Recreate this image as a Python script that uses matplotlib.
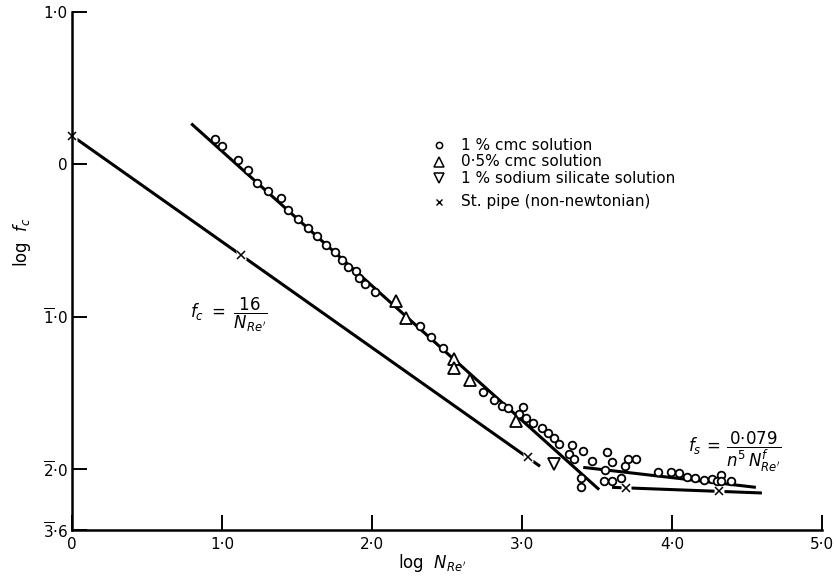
import matplotlib
matplotlib.use("Agg")
import matplotlib.pyplot as plt
import numpy as np

# ---- data (log N_Re', log f) ----
cmc1_x = [0.955, 0.999, 1.105, 1.176, 1.236, 1.309, 1.393, 1.442, 1.510, 1.575,
          1.635, 1.692, 1.756, 1.801, 1.843, 1.894, 1.914, 1.951, 2.022, 2.319,
          2.394, 2.476, 2.740, 2.815, 2.870, 2.910, 3.010, 2.983, 3.028, 3.074,
          3.134, 3.171, 3.211, 3.247, 3.333, 3.409, 3.316, 3.347, 3.470, 3.397,
          3.393, 3.568, 3.603, 3.705, 3.760, 3.686, 3.557, 3.663, 3.603, 3.546,
          3.907, 3.996, 4.045, 4.102, 4.157, 4.217, 4.266, 4.301, 4.328, 4.328,
          4.394]
cmc1_y = [0.167, 0.119, 0.029, -0.039, -0.126, -0.176, -0.220, -0.298, -0.362, -0.416,
          -0.473, -0.530, -0.576, -0.630, -0.674, -0.700, -0.748, -0.783, -0.838, -1.058,
          -1.133, -1.203, -1.493, -1.546, -1.585, -1.602, -1.592, -1.640, -1.666, -1.701,
          -1.733, -1.764, -1.799, -1.838, -1.843, -1.880, -1.902, -1.934, -1.946, -2.061,
          -2.116, -1.891, -1.954, -1.936, -1.936, -1.982, -2.004, -2.057, -2.077, -2.077,
          -2.022, -2.022, -2.028, -2.050, -2.061, -2.070, -2.066, -2.077, -2.039, -2.077,
          -2.081]

cmc05_x = [2.162, 2.226, 2.549, 2.549, 2.651, 2.961]
cmc05_y = [-0.895, -1.008, -1.275, -1.334, -1.415, -1.683]

silicate_x = [3.216]
silicate_y = [-1.969]

pipe_x = [0.0, 1.127, 3.039, 3.697, 4.317]
pipe_y = [0.187, -0.598, -1.923, -2.122, -2.143]

# fitted / theoretical lines (end points)
fc_line_x = [0.0, 3.121]
fc_line_y = [0.187, -1.982]
cmc_line_x = [0.795, 3.515]
cmc_line_y = [0.267, -2.135]
fs_upper_x = [3.409, 4.560]
fs_upper_y = [-1.989, -2.120]
fs_lower_x = [3.601, 4.600]
fs_lower_y = [-2.120, -2.157]

xticks = [0, 1, 2, 3, 4, 5]
xticklabels = ["0", "1·0", "2·0", "3·0", "4·0", "5·0"]
yticks = [1.0, 0.0, -1.0, -2.0, -2.4]
yticklabels = ["1·0", "0", r"$\overline{1}$·0", r"$\overline{2}$·0", r"$\overline{3}$·6"]

legend_labels = ["1 % cmc solution", "0·5% cmc solution",
                 "1 % sodium silicate solution", "St. pipe (non-newtonian)"]

# ---- figure ----
plt.rcParams["font.family"] = ["DejaVu Sans"]
plt.rcParams["mathtext.fontset"] = "dejavusans"
fig = plt.figure(figsize=(8.36, 5.83), dpi=100)
ax = fig.add_axes([0.0861, 0.0909, 0.897, 0.8887])

lw = 2.2
ax.plot(fc_line_x, fc_line_y, color="black", lw=lw, solid_capstyle="butt", zorder=2)
ax.plot(cmc_line_x, cmc_line_y, color="black", lw=lw, solid_capstyle="butt", zorder=2)
ax.plot(fs_upper_x, fs_upper_y, color="black", lw=lw, solid_capstyle="butt", zorder=2)
ax.plot(fs_lower_x, fs_lower_y, color="black", lw=lw, solid_capstyle="butt", zorder=2)

ax.plot(cmc1_x, cmc1_y, ls="none", marker="o", ms=5.5, mfc="white", mec="black",
        mew=1.3, zorder=3, clip_on=False)
ax.plot(cmc05_x, cmc05_y, ls="none", marker="^", ms=8.5, mfc="white", mec="black",
        mew=1.3, zorder=3)
ax.plot(silicate_x, silicate_y, ls="none", marker="v", ms=8.5, mfc="white", mec="black",
        mew=1.3, zorder=3)
# white gaps under the crosses
ax.plot(pipe_x, pipe_y, ls="none", marker="s", ms=7, mfc="white", mec="none",
        zorder=2.1, clip_on=False)
ax.plot(pipe_x, pipe_y, ls="none", marker="x", ms=5.5, color="black", mew=1.1,
        zorder=3, clip_on=False)

ax.set_xlim(0, 5)
ax.set_ylim(-2.4, 1.0)

for s in ["top", "right"]:
    ax.spines[s].set_visible(False)
for s in ["left", "bottom"]:
    ax.spines[s].set_linewidth(1.8)

ax.set_xticks(xticks)
ax.set_xticklabels(xticklabels)
ax.set_yticks(yticks)
ax.set_yticklabels(yticklabels)
ax.tick_params(direction="in", length=11, width=1.4, labelsize=11, pad=5)
ax.tick_params(axis="y", pad=3)

ax.set_xlabel(r"log  $N_{Re'}$", fontsize=12)
ax.xaxis.set_label_coords(0.48, -0.043)
ax.set_ylabel(r"log  $f_c$", fontsize=12)
ax.yaxis.set_label_coords(-0.052, 0.555)

# legend (manual)
leg_markers = [dict(marker="o", ms=4.5), dict(marker="^", ms=7),
               dict(marker="v", ms=7), dict(marker="x", ms=5)]
leg_y = [0.743, 0.711, 0.679, 0.634]
for mk, lab, yy in zip(leg_markers, legend_labels, leg_y):
    if mk["marker"] == "x":
        ax.plot([0.489], [yy], transform=ax.transAxes, ls="none", color="black",
                mew=1.0, **mk)
    else:
        ax.plot([0.489], [yy], transform=ax.transAxes, ls="none", mfc="white",
                mec="black", mew=1.1, **mk)
    ax.text(0.519, yy, lab, transform=ax.transAxes, fontsize=11, va="center", ha="left")

# equations
ax.text(0.158, 0.416, r"$f_c\ =\ \dfrac{16}{N_{Re'}}$", transform=ax.transAxes,
        fontsize=12, va="center", ha="left")
ax.text(0.822, 0.150, r"$f_s\,=\,\dfrac{0{\cdot}079}{n^5\,N^{f}_{Re'}}$",
        transform=ax.transAxes, fontsize=12, va="center", ha="left")

fig.savefig("out.png", dpi=100)
